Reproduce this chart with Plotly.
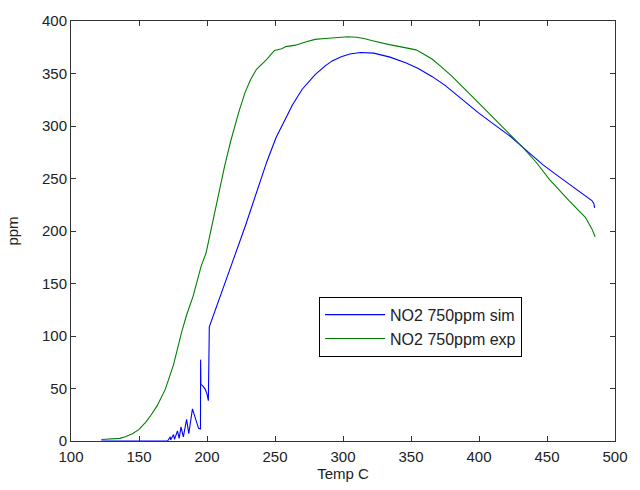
import plotly.graph_objects as go

# Simulated NO2 (blue)
sim_temp = [122.3, 171.0, 173.0, 173.3, 175.4, 176.1, 178.3, 179.5, 180.9, 182.6,
            185.0, 186.6, 189.3, 193.8, 195.2, 195.3, 195.5, 196.9, 198.6, 200.0,
            201.0, 201.7, 211.3, 218.5, 228.5, 237.7, 244.0, 250.8, 256.0, 262.8,
            270.0, 279.5, 286.7, 292.0, 298.7, 305.0, 313.0, 322.6, 334.6, 346.5,
            355.0, 365.7, 375.3, 387.0, 399.2, 411.0, 423.2, 435.0, 447.1, 459.0,
            471.0, 483.0, 484.5, 485.0]
sim_ppm = [0.0, 0.0, 4.0, 1.0, 6.2, 1.5, 9.7, 2.5, 13.4, 4.0,
           20.6, 7.0, 30.6, 12.0, 11.5, 77.5, 54.0, 52.5, 49.4, 44.7,
           38.4, 108.7, 144.5, 169.6, 206.0, 242.0, 266.0, 289.0, 303.0, 320.0,
           335.0, 349.0, 357.0, 362.0, 366.0, 368.5, 370.0, 369.4, 365.6, 360.0,
           355.0, 347.0, 338.5, 326.0, 313.0, 301.5, 290.0, 276.5, 263.0, 251.5,
           240.0, 229.0, 226.0, 222.0]

# Experimental NO2 (green)
exp_temp = [122.3, 130.0, 135.9, 140.0, 145.5, 150.0, 155.0, 159.0, 163.4, 169.4,
            175.4, 181.4, 185.0, 189.8, 195.7, 199.3, 202.9, 206.5, 210.1, 213.0,
            217.3, 223.3, 228.0, 232.0, 236.4, 243.6, 249.6, 252.0, 255.0, 258.0,
            265.2, 272.4, 279.5, 286.7, 295.0, 303.4, 310.0, 315.4, 321.0, 327.4,
            334.0, 341.8, 348.0, 353.7, 358.0, 365.7, 371.7, 380.0, 394.4, 408.8,
            423.2, 432.7, 442.3, 451.9, 466.2, 478.2, 483.0, 485.4]
exp_ppm = [1.5, 2.0, 2.5, 4.0, 7.2, 11.0, 18.0, 25.0, 33.7, 49.4,
           72.8, 104.0, 120.0, 138.0, 166.5, 179.0, 200.7, 225.0, 246.0, 262.0,
           285.0, 313.0, 332.0, 344.0, 354.0, 363.0, 372.0, 373.0, 373.5, 375.6,
           377.0, 380.0, 382.5, 383.4, 384.5, 385.0, 384.5, 383.4, 381.5, 379.4,
           377.5, 375.6, 374.0, 372.5, 369.5, 363.5, 357.0, 347.5, 329.0, 310.0,
           291.0, 279.0, 265.0, 249.0, 229.0, 213.0, 202.0, 194.6]

x_ticks = [100, 150, 200, 250, 300, 350, 400, 450, 500]
y_ticks = [0, 50, 100, 150, 200, 250, 300, 350, 400]

fig = go.Figure()
fig.add_trace(go.Scatter(x=sim_temp, y=sim_ppm, mode="lines", name="NO2 750ppm sim",
                         line=dict(color="#0000FF", width=1.1)))
fig.add_trace(go.Scatter(x=exp_temp, y=exp_ppm, mode="lines", name="NO2 750ppm exp",
                         line=dict(color="#008000", width=1.1)))

axis_common = dict(showgrid=False, zeroline=False, showline=True, linecolor="#333333",
                   linewidth=1, mirror="ticks", ticks="inside", ticklen=5,
                   tickcolor="#333333", tickfont=dict(size=15, color="#222222"))

fig.update_layout(
    width=640, height=490,
    margin=dict(l=70, r=13, t=14, b=49),
    paper_bgcolor="white", plot_bgcolor="white",
    font=dict(family="Arial, Liberation Sans, sans-serif", size=15, color="#222222"),
    xaxis=dict(range=[100, 500], tickvals=x_ticks, ticklabelstandoff=2,
               title=dict(text="Temp C", standoff=2, font=dict(size=15)), **axis_common),
    yaxis=dict(range=[0, 400], tickvals=y_ticks,
               title=dict(text="ppm", standoff=19, font=dict(size=15)), **axis_common),
    showlegend=True,
    legend=dict(x=0.456, y=0.3435, xanchor="left", yanchor="top",
                bordercolor="#000000", borderwidth=1, bgcolor="white",
                font=dict(size=16, color="#222222"), itemwidth=60,
                tracegroupgap=0),
)

fig.write_html("out.html")
